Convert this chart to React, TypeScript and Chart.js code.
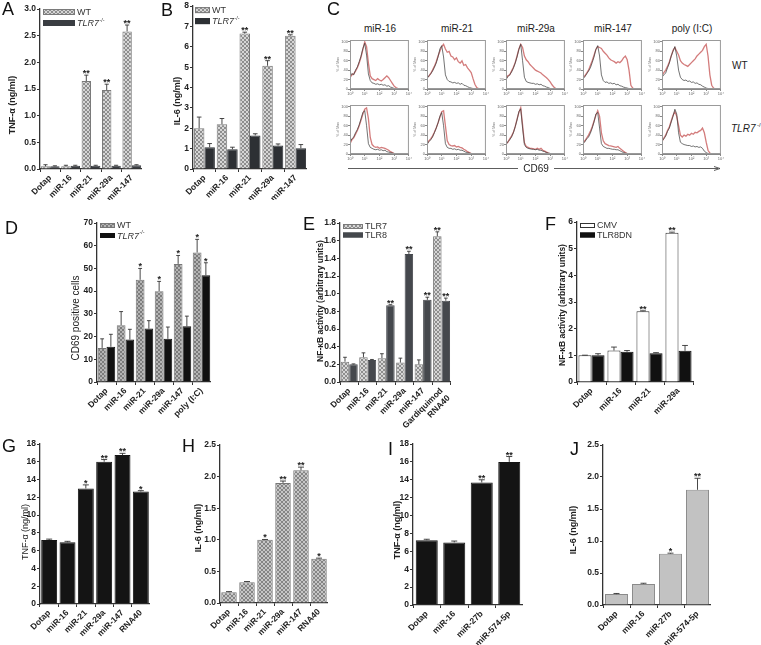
import React, { useEffect, useRef } from 'react';
import { Chart, registerables } from 'chart.js';
Chart.register(...registerables);

const FONT = "'Liberation Sans', Arial, Helvetica, sans-serif";

// ---------------- Panel A ----------------
const A_CATS = ['Dotap', 'miR-16', 'miR-21', 'miR-29a', 'miR-147'];
const A_WT = [0.05, 0.05, 1.65, 1.48, 2.58];
const A_WT_ERR = [0.03, 0.02, 0.11, 0.11, 0.12];
const A_KO = [0.05, 0.06, 0.06, 0.06, 0.07];
const A_KO_ERR = [0.01, 0.01, 0.01, 0.01, 0.01];
const A_STARS = ['', '', '**', '**', '**'];

// ---------------- Panel B ----------------
const B_CATS = ['Dotap', 'miR-16', 'miR-21', 'miR-29a', 'miR-147'];
const B_WT = [2.0, 2.2, 6.65, 5.07, 6.55];
const B_WT_ERR = [0.55, 0.28, 0.07, 0.25, 0.04];
const B_KO = [1.07, 0.97, 1.65, 1.15, 1.02];
const B_KO_ERR = [0.18, 0.1, 0.08, 0.08, 0.18];
const B_STARS = ['', '', '**', '**', '**'];

// ---------------- Panel D ----------------
const D_CATS = ['Dotap', 'miR-16', 'miR-21', 'miR-29a', 'miR-147', 'poly (I:C)'];
const D_WT = [15, 25, 45, 40, 52, 57];
const D_WT_ERR = [4, 6, 5, 4.3, 3.7, 5.8];
const D_KO = [15.5, 18.7, 23.5, 19, 24.5, 47];
const D_KO_ERR = [5.5, 4.5, 3.5, 5.2, 4.5, 5.5];
const D_WT_STARS = ['', '', '*', '*', '*', '*'];
const D_KO_STARS = ['', '', '', '', '', '*'];

// ---------------- Panel E ----------------
const E_CATS = ['Dotap', 'miR-16', 'miR-21', 'miR-29a', 'miR-147', ['Gardiquimod', 'RNA40']];
const E_TLR7 = [0.23, 0.28, 0.27, 0.22, 0.2, 1.65];
const E_TLR7_ERR = [0.05, 0.05, 0.05, 0.05, 0.05, 0.05];
const E_TLR8 = [0.2, 0.25, 0.87, 1.45, 0.93, 0.92];
const E_TLR8_ERR = [0.005, 0.005, 0.005, 0.03, 0.03, 0.03];
const E_TLR7_STARS = ['', '', '', '', '', '**'];
const E_TLR8_STARS = ['', '', '**', '**', '**', '**'];

// ---------------- Panel F ----------------
const F_CATS = ['Dotap', 'miR-16', 'miR-21', 'miR-29a'];
const F_CMV = [1.0, 1.18, 2.65, 5.6];
const F_CMV_ERR = [0.005, 0.13, 0.02, 0.02];
const F_DN = [1.0, 1.13, 1.08, 1.17];
const F_DN_ERR = [0.06, 0.05, 0.02, 0.2];
const F_STARS = ['', '', '**', '**'];

// ---------------- Panel G ----------------
const G_CATS = ['Dotap', 'miR-16', 'miR-21', 'miR-29a', 'miR-147', 'RNA40'];
const G_VALS = [7.2, 6.95, 13.0, 16.0, 16.75, 12.65];
const G_ERR = [0.1, 0.1, 0.4, 0.25, 0.2, 0.1];
const G_STARS = ['', '', '*', '**', '**', '*'];

// ---------------- Panel H ----------------
const H_CATS = ['Dotap', 'miR-16', 'miR-21', 'miR-29a', 'miR-147', 'RNA40'];
const H_VALS = [0.17, 0.33, 1.0, 1.9, 2.1, 0.7];
const H_ERR = [0.01, 0.01, 0.005, 0.03, 0.05, 0.01];
const H_STARS = ['', '', '*', '**', '**', '*'];

// ---------------- Panel I ----------------
const I_CATS = ['Dotap', 'miR-16', 'miR-27b', 'miR-574-5p'];
const I_VALS = [7.25, 7.0, 13.7, 16.0];
const I_ERR = [0.1, 0.15, 0.3, 0.6];
const I_STARS = ['', '', '**', '**'];

// ---------------- Panel J ----------------
const J_CATS = ['Dotap', 'miR-16', 'miR-27b', 'miR-574-5p'];
const J_VALS = [0.17, 0.33, 0.8, 1.8];
const J_ERR = [0.01, 0.01, 0.01, 0.18];
const J_STARS = ['', '', '*', '**'];

// ---------------- Panel C (CD69 histograms) ----------------
const HIST_X = [0, 0.125, 0.25, 0.375, 0.5, 0.625, 0.75, 0.875, 1, 1.125, 1.25, 1.375, 1.5, 1.625, 1.75, 1.875, 2, 2.125, 2.25, 2.375, 2.5, 2.625, 2.75, 2.875, 3, 3.125, 3.25, 3.375, 3.5, 3.625, 3.75, 3.875, 4];
const HIST_XTICKS = ['10⁰', '10¹', '10²', '10³', '10⁴'];
const C_TITLES = ['miR-16', 'miR-21', 'miR-29a', 'miR-147', 'poly (I:C)'];

const WT_CTRL_16 = [26, 33, 30, 40, 47, 58, 70, 86, 97, 72, 32, 18, 13, 12, 10, 11, 9, 10, 8, 9, 6, 7, 4, 3, 1, 1, 0, 0, 0, 0, 0, 0, 0];
const WT_RED_16 = [24, 30, 32, 38, 45, 55, 68, 84, 100, 90, 55, 28, 22, 20, 18, 22, 19, 17, 20, 24, 28, 24, 18, 12, 6, 3, 1, 0, 0, 0, 0, 0, 0];
const WT_CTRL_21 = [22, 28, 32, 38, 46, 55, 68, 85, 92, 68, 30, 20, 16, 15, 13, 14, 12, 13, 10, 12, 8, 7, 5, 3, 2, 1, 0, 0, 0, 0, 0, 0, 0];
const WT_RED_21 = [25, 27, 33, 40, 48, 58, 70, 80, 90, 95, 85, 78, 80, 70, 68, 62, 66, 58, 55, 60, 50, 52, 45, 40, 35, 22, 10, 3, 1, 0, 0, 0, 0];
const WT_CTRL_29 = [20, 26, 30, 36, 44, 55, 68, 84, 95, 60, 25, 16, 14, 13, 12, 12, 10, 11, 9, 10, 7, 6, 4, 3, 1, 1, 0, 0, 0, 0, 0, 0, 0];
const WT_RED_29 = [22, 28, 30, 38, 46, 56, 70, 85, 95, 88, 70, 62, 58, 52, 48, 44, 40, 38, 36, 34, 30, 27, 24, 20, 15, 9, 4, 1, 0, 0, 0, 0, 0];
const WT_CTRL_147 = [22, 26, 32, 38, 45, 56, 68, 84, 92, 70, 30, 18, 14, 15, 12, 13, 11, 12, 9, 10, 7, 6, 4, 3, 2, 1, 0, 0, 0, 0, 0, 0, 0];
const WT_RED_147 = [24, 28, 34, 40, 50, 60, 72, 84, 90, 88, 86, 80, 76, 72, 66, 62, 60, 58, 55, 58, 56, 60, 66, 70, 62, 40, 8, 2, 0, 0, 0, 0, 0];
const WT_CTRL_POLY = [25, 30, 34, 45, 55, 70, 80, 90, 70, 40, 25, 20, 18, 19, 16, 17, 14, 15, 12, 13, 10, 9, 6, 4, 2, 1, 0, 0, 0, 0, 0, 0, 0];
const WT_RED_POLY = [28, 35, 40, 48, 58, 70, 82, 88, 80, 72, 60, 55, 52, 50, 48, 52, 56, 60, 64, 70, 74, 78, 82, 90, 95, 70, 30, 8, 2, 0, 0, 0, 0];

const KO_CTRL_16 = [25, 32, 36, 45, 52, 62, 75, 88, 92, 60, 22, 14, 12, 10, 9, 10, 8, 9, 7, 8, 5, 4, 3, 2, 1, 0, 0, 0, 0, 0, 0, 0, 0];
const KO_RED_16 = [22, 30, 34, 42, 50, 60, 72, 85, 95, 98, 75, 35, 20, 16, 14, 15, 12, 14, 13, 12, 10, 8, 5, 3, 1, 0, 0, 0, 0, 0, 0, 0, 0];
const KO_CTRL_21 = [20, 26, 30, 36, 45, 55, 66, 80, 88, 60, 22, 14, 12, 12, 10, 11, 9, 10, 8, 8, 6, 4, 3, 2, 1, 0, 0, 0, 0, 0, 0, 0, 0];
const KO_RED_21 = [22, 28, 32, 38, 46, 55, 66, 78, 90, 92, 60, 28, 20, 18, 17, 18, 15, 16, 14, 13, 10, 8, 5, 3, 1, 0, 0, 0, 0, 0, 0, 0, 0];
const KO_CTRL_29 = [20, 26, 30, 36, 45, 58, 72, 90, 96, 55, 20, 14, 12, 11, 10, 10, 9, 10, 8, 8, 6, 5, 3, 2, 1, 0, 0, 0, 0, 0, 0, 0, 0];
const KO_RED_29 = [22, 25, 32, 38, 46, 58, 74, 88, 98, 62, 24, 16, 14, 12, 12, 11, 10, 12, 10, 12, 8, 6, 4, 2, 1, 0, 0, 0, 0, 0, 0, 0, 0];
const KO_CTRL_147 = [22, 26, 32, 36, 44, 55, 68, 85, 88, 55, 22, 16, 14, 12, 12, 11, 10, 10, 9, 9, 7, 5, 3, 2, 1, 0, 0, 0, 0, 0, 0, 0, 0];
const KO_RED_147 = [24, 28, 34, 40, 48, 58, 70, 82, 92, 80, 45, 28, 22, 20, 18, 17, 16, 15, 14, 16, 12, 9, 6, 3, 1, 0, 0, 0, 0, 0, 0, 0, 0];
const KO_CTRL_POLY = [28, 32, 38, 48, 55, 68, 80, 95, 85, 45, 25, 22, 20, 19, 18, 18, 16, 17, 15, 16, 14, 15, 12, 6, 3, 1, 0, 0, 0, 0, 0, 0, 0];
const KO_RED_POLY = [26, 34, 40, 50, 58, 70, 82, 90, 80, 60, 40, 36, 40, 38, 42, 40, 44, 42, 46, 45, 48, 50, 55, 45, 25, 8, 2, 0, 0, 0, 0, 0, 0];

const C_WT_CTRL = [WT_CTRL_16, WT_CTRL_21, WT_CTRL_29, WT_CTRL_147, WT_CTRL_POLY];
const C_WT_RED = [WT_RED_16, WT_RED_21, WT_RED_29, WT_RED_147, WT_RED_POLY];
const C_KO_CTRL = [KO_CTRL_16, KO_CTRL_21, KO_CTRL_29, KO_CTRL_147, KO_CTRL_POLY];
const C_KO_RED = [KO_RED_16, KO_RED_21, KO_RED_29, KO_RED_147, KO_RED_POLY];

// ---------------- helpers ----------------
function hatch(bg: string, fg: string) {
  const c = document.createElement('canvas');
  c.width = 4; c.height = 4;
  const x = c.getContext('2d')!;
  x.fillStyle = bg; x.fillRect(0, 0, 4, 4);
  x.fillStyle = fg;
  for (let i = 0; i < 4; i++) { x.fillRect(i, i, 1, 1); x.fillRect(3 - i, i, 1, 1); }
  return x.createPattern(c, 'repeat')!;
}

const errorBarPlugin = {
  id: 'errorBars',
  afterDatasetsDraw(chart: any) {
    const ctx = chart.ctx;
    const ys = chart.scales.y;
    chart.data.datasets.forEach((ds: any, i: number) => {
      if (!ds.errors) return;
      const meta = chart.getDatasetMeta(i);
      meta.data.forEach((bar: any, j: number) => {
        const v = ds.data[j], e = ds.errors[j];
        const yTop = ys.getPixelForValue(v + e);
        const yBase = ys.getPixelForValue(v);
        const hw = Math.max(1.5, Math.min(3, bar.width * 0.22));
        ctx.save();
        ctx.strokeStyle = ds.errorColor || '#333';
        ctx.lineWidth = 0.9;
        ctx.beginPath();
        ctx.moveTo(bar.x, yBase); ctx.lineTo(bar.x, yTop);
        ctx.moveTo(bar.x - hw, yTop); ctx.lineTo(bar.x + hw, yTop);
        ctx.stroke();
        ctx.restore();
      });
    });
  },
};

const starPlugin = {
  id: 'stars',
  afterDatasetsDraw(chart: any) {
    const ctx = chart.ctx;
    const ys = chart.scales.y;
    chart.data.datasets.forEach((ds: any, i: number) => {
      if (!ds.stars) return;
      const meta = chart.getDatasetMeta(i);
      meta.data.forEach((bar: any, j: number) => {
        const s = ds.stars[j];
        if (!s) return;
        const yTop = ys.getPixelForValue(ds.data[j] + (ds.errors ? ds.errors[j] : 0));
        ctx.save();
        ctx.fillStyle = '#222';
        ctx.font = `bold 9px ${FONT}`;
        ctx.textAlign = 'center';
        ctx.textBaseline = 'alphabetic';
        ctx.fillText(s, bar.x, yTop + 1);
        ctx.restore();
      });
    });
  },
};

const legendPlugin = {
  id: 'boxLegend',
  afterDraw(chart: any) {
    const o = chart.options.plugins.boxLegend;
    if (!o || !o.items) return;
    const ctx = chart.ctx;
    const { left, top } = chart.chartArea;
    o.items.forEach((it: any, i: number) => {
      const ds = chart.data.datasets[i];
      const x = left + o.dx, y = top + o.dy + i * o.gap;
      ctx.save();
      ctx.fillStyle = ds.backgroundColor;
      ctx.fillRect(x, y, o.w, o.h);
      ctx.strokeStyle = ds.borderColor;
      ctx.lineWidth = 1;
      ctx.strokeRect(x + 0.5, y + 0.5, o.w - 1, o.h - 1);
      ctx.fillStyle = '#333';
      ctx.textBaseline = 'middle';
      ctx.textAlign = 'left';
      ctx.font = `${it.italic ? 'italic ' : ''}${o.size}px ${FONT}`;
      const tx = x + o.w + 2;
      ctx.fillText(it.label, tx, y + o.h / 2 + 0.5);
      if (it.sup) {
        const w = ctx.measureText(it.label).width;
        ctx.font = `${o.size * 0.6}px ${FONT}`;
        ctx.fillText(it.sup, tx + w + 0.5, y + o.h / 2 - o.size * 0.3);
      }
      ctx.restore();
    });
  },
};

const framePlugin = {
  id: 'frame',
  afterDraw(chart: any) {
    const { left, top, right, bottom } = chart.chartArea;
    const ctx = chart.ctx;
    ctx.save();
    ctx.strokeStyle = '#9a9a9a';
    ctx.lineWidth = 1;
    ctx.strokeRect(left + 0.5, top + 0.5, right - left - 1, bottom - top - 1);
    ctx.restore();
  },
};

type Series = { data: number[]; errors: number[]; stars?: string[]; bg: () => any; border: string };
type BarSpec = {
  cats: any[]; series: Series[]; yMax: number; yStep: number; dec: number;
  cl: number; ct: number; cr: number; cb: number; yW: number; top: number; h: number; w: number;
  catPct: number; barPct: number; legend?: any; tickSize?: number;
};

function barConfig(s: BarSpec, canvasX: number) {
  const padTop = s.ct - s.top;
  const padRight = canvasX + s.w - s.cr;
  const xH = s.top + s.h - s.cb;
  const axisCommon = {
    grid: { display: true, drawOnChartArea: false, tickLength: 3, color: '#333', lineWidth: 1 },
    border: { display: true, color: '#333', width: 1.3 },
  };
  const tfont = { family: FONT, size: s.tickSize || 8.5, weight: 'bold' as const };
  return {
    type: 'bar' as const,
    data: {
      labels: s.cats,
      datasets: s.series.map((sr) => ({
        data: sr.data, errors: sr.errors, stars: sr.stars,
        backgroundColor: sr.bg(), borderColor: sr.border, borderWidth: 1,
        categoryPercentage: s.catPct, barPercentage: s.barPct,
      })),
    },
    options: {
      responsive: false, animation: false as const,
      layout: { padding: { left: 0, top: padTop, right: padRight, bottom: 0 } },
      plugins: { legend: { display: false }, tooltip: { enabled: false }, boxLegend: s.legend || {} },
      scales: {
        x: {
          ...axisCommon,
          ticks: { maxRotation: 45, minRotation: 45, font: tfont, color: '#222', padding: 1, autoSkip: false },
          afterFit: (sc: any) => { sc.height = xH; },
        },
        y: {
          ...axisCommon, min: 0, max: s.yMax,
          ticks: { stepSize: s.yStep, font: tfont, color: '#222', padding: 1, callback: (v: any) => Number(v).toFixed(s.dec) },
          afterFit: (sc: any) => { sc.width = s.yW; },
        },
      },
    },
    plugins: [errorBarPlugin, starPlugin, legendPlugin],
  };
}

function BarPanel({ spec }: { spec: BarSpec }) {
  const ref = useRef<HTMLCanvasElement>(null);
  const x = spec.cl - spec.yW;
  useEffect(() => {
    const chart = new Chart(ref.current!, barConfig(spec, x) as any);
    return () => chart.destroy();
  }, []);
  return <canvas ref={ref} width={spec.w} height={spec.h} style={{ position: 'absolute', left: x, top: spec.top, width: spec.w, height: spec.h }} />;
}

function HistPanel({ left, top, ctrl, red }: { left: number; top: number; ctrl: number[]; red: number[] }) {
  const ref = useRef<HTMLCanvasElement>(null);
  const boxW = 60, boxH = 49, yW = 14, xH = 10, pt = 4, pr = 2;
  const W = boxW + yW + pr, H = boxH + pt + xH;
  useEffect(() => {
    const tf = { family: FONT, size: 4 };
    const chart = new Chart(ref.current!, {
      type: 'line',
      data: {
        datasets: [
          { data: HIST_X.map((x, i) => ({ x, y: ctrl[i] })), borderColor: 'rgba(60,60,60,0.9)', borderWidth: 0.8, pointRadius: 0, tension: 0 },
          { data: HIST_X.map((x, i) => ({ x, y: red[i] })), borderColor: 'rgba(196,80,80,0.75)', borderWidth: 1.3, pointRadius: 0, tension: 0 },
        ],
      },
      options: {
        responsive: false, animation: false,
        layout: { padding: { top: pt, right: pr, left: 0, bottom: 0 } },
        plugins: { legend: { display: false }, tooltip: { enabled: false } },
        scales: {
          x: {
            type: 'linear', min: 0, max: 4,
            ticks: { stepSize: 1, callback: (v: any) => HIST_XTICKS[v] ?? '', font: tf, color: '#666', padding: 0, maxRotation: 0 },
            grid: { drawOnChartArea: false, tickLength: 2, color: '#888' },
            border: { color: '#888' },
            afterFit: (s: any) => { s.height = xH; },
          },
          y: {
            min: 0, max: 104,
            ticks: { stepSize: 20, includeBounds: false, font: tf, color: '#666', padding: 0 },
            grid: { drawOnChartArea: false, tickLength: 2, color: '#888' },
            border: { color: '#888' },
            title: { display: true, text: '% of Max', font: { family: FONT, size: 3.5 }, color: '#777', padding: 0 },
            afterFit: (s: any) => { s.width = yW; },
          },
        },
      },
      plugins: [framePlugin],
    } as any);
    return () => chart.destroy();
  }, []);
  return <canvas ref={ref} width={W} height={H} style={{ position: 'absolute', left: left - yW, top: top - pt, width: W, height: H }} />;
}

const LIGHT = () => hatch('#d6d6d6', '#8e8e8e');

const SPECS: BarSpec[] = [
  { // A
    cats: A_CATS, yMax: 3, yStep: 0.5, dec: 1, cl: 40, ct: 9, cr: 159, cb: 169, yW: 24, top: 0, h: 200, w: 126,
    catPct: 0.92, barPct: 1,
    series: [
      { data: A_WT, errors: A_WT_ERR, stars: A_STARS, bg: LIGHT, border: '#7a7a7a' },
      { data: A_KO, errors: A_KO_ERR, bg: () => '#3a3d42', border: '#3a3d42' },
    ],
    legend: { dx: 3, dy: 0, w: 32, h: 6, gap: 11, size: 9, items: [{ label: 'WT' }, { label: 'TLR7', sup: '-/-', italic: true }] },
  },
  { // B
    cats: B_CATS, yMax: 8, yStep: 1, dec: 0, cl: 193, ct: 6, cr: 319, cb: 169, yW: 16, top: 0, h: 200, w: 130,
    catPct: 0.92, barPct: 1,
    series: [
      { data: B_WT, errors: B_WT_ERR, stars: B_STARS, bg: LIGHT, border: '#7a7a7a' },
      { data: B_KO, errors: B_KO_ERR, bg: () => '#2d3034', border: '#2d3034' },
    ],
    legend: { dx: 2, dy: 1, w: 15, h: 6, gap: 11, size: 9, items: [{ label: 'WT' }, { label: 'TLR7', sup: '-/-', italic: true }] },
  },
  { // D
    cats: D_CATS, yMax: 70, yStep: 10, dec: 0, cl: 97, ct: 223, cr: 213, cb: 382, yW: 16, top: 200, h: 230, w: 130,
    catPct: 0.92, barPct: 1,
    series: [
      { data: D_WT, errors: D_WT_ERR, stars: D_WT_STARS, bg: () => hatch('#b4b4b4', '#7c7c7c'), border: '#777' },
      { data: D_KO, errors: D_KO_ERR, stars: D_KO_STARS, bg: () => '#111', border: '#111' },
    ],
    legend: { dx: 3, dy: 0, w: 15, h: 5, gap: 10, size: 9, items: [{ label: 'WT' }, { label: 'TLR7', sup: '-/-', italic: true }] },
  },
  { // E
    cats: E_CATS, yMax: 1.8, yStep: 0.2, dec: 1, cl: 340, ct: 223, cr: 463, cb: 382, yW: 18, top: 200, h: 230, w: 135,
    catPct: 0.92, barPct: 1,
    series: [
      { data: E_TLR7, errors: E_TLR7_ERR, stars: E_TLR7_STARS, bg: LIGHT, border: '#7a7a7a' },
      { data: E_TLR8, errors: E_TLR8_ERR, stars: E_TLR8_STARS, bg: () => '#45484d', border: '#45484d' },
    ],
    legend: { dx: 3, dy: 1, w: 20, h: 5, gap: 8.5, size: 9, items: [{ label: 'TLR7' }, { label: 'TLR8' }] },
  },
  { // F
    cats: F_CATS, yMax: 6, yStep: 1, dec: 0, cl: 577, ct: 222, cr: 693, cb: 382, yW: 14, top: 200, h: 230, w: 134,
    catPct: 0.9, barPct: 1,
    series: [
      { data: F_CMV, errors: F_CMV_ERR, stars: F_STARS, bg: () => '#ffffff', border: '#333' },
      { data: F_DN, errors: F_DN_ERR, bg: () => '#111', border: '#111' },
    ],
    legend: { dx: 3, dy: 1, w: 15, h: 5, gap: 9.5, size: 9, items: [{ label: 'CMV' }, { label: 'TLR8DN' }] },
  },
  { // G
    cats: G_CATS, yMax: 18, yStep: 2, dec: 0, cl: 40, ct: 444, cr: 159, cb: 604, yW: 16, top: 430, h: 215, w: 126,
    catPct: 0.87, barPct: 1,
    series: [{ data: G_VALS, errors: G_ERR, stars: G_STARS, bg: () => '#141414', border: '#141414' }],
  },
  { // H
    cats: H_CATS, yMax: 2.5, yStep: 0.5, dec: 1, cl: 220, ct: 445, cr: 339, cb: 603, yW: 18, top: 430, h: 215, w: 126,
    catPct: 0.86, barPct: 1,
    series: [{ data: H_VALS, errors: H_ERR, stars: H_STARS, bg: () => hatch('#c6c6c6', '#858585'), border: '#777' }],
  },
  { // I
    cats: I_CATS, yMax: 18, yStep: 2, dec: 0, cl: 413, ct: 444, cr: 533, cb: 605, yW: 16, top: 430, h: 215, w: 126,
    catPct: 0.8, barPct: 1,
    series: [{ data: I_VALS, errors: I_ERR, stars: I_STARS, bg: () => '#141414', border: '#141414' }],
  },
  { // J
    cats: J_CATS, yMax: 2.5, yStep: 0.5, dec: 1, cl: 603, ct: 445, cr: 722, cb: 605, yW: 18, top: 430, h: 215, w: 126,
    catPct: 0.85, barPct: 1,
    series: [{ data: J_VALS, errors: J_ERR, stars: J_STARS, bg: () => '#c2c2c2', border: '#8a8a8a' }],
  },
];

const Y_TITLES = [
  { text: 'TNF-α (ng/ml)', x: 12, y: 105, bold: true, size: 9 },
  { text: 'IL-6 (ng/ml)', x: 177, y: 101, bold: true, size: 9 },
  { text: 'CD69 positive cells', x: 75, y: 318, bold: false, size: 10 },
  { text: 'NF-κB activity (arbitrary units)', x: 320, y: 301, bold: true, size: 8.5 },
  { text: 'NF-κB activity (arbitrary units)', x: 562, y: 305, bold: true, size: 8.5 },
  { text: 'TNF-α (ng/ml)', x: 25, y: 532, bold: false, size: 9 },
  { text: 'IL-6 (ng/ml)', x: 198, y: 528, bold: true, size: 9 },
  { text: 'TNF-α (ng/ml)', x: 397, y: 530, bold: true, size: 9 },
  { text: 'IL-6 (ng/ml)', x: 573, y: 530, bold: true, size: 9 },
];

const LETTERS = [
  { t: 'A', x: 2, y: 3 }, { t: 'B', x: 161, y: 4 }, { t: 'C', x: 327, y: 3 },
  { t: 'D', x: 5, y: 222 }, { t: 'E', x: 303, y: 218 }, { t: 'F', x: 545, y: 218 },
  { t: 'G', x: 2, y: 440 }, { t: 'H', x: 182, y: 440 }, { t: 'I', x: 388, y: 443 }, { t: 'J', x: 570, y: 443 },
];

const C_BOX_LEFT = [350, 427, 506, 583, 662];
const C_TOP_ROW = 40;
const C_BOTTOM_ROW = 105;

export default function App() {
  return (
    <div style={{ position: 'fixed', left: 0, top: 0, width: 761, height: 645, background: '#fff', overflow: 'hidden', fontFamily: FONT }}>
      {SPECS.map((s, i) => <BarPanel key={i} spec={s} />)}
      {C_BOX_LEFT.map((l, i) => <HistPanel key={'t' + i} left={l} top={C_TOP_ROW} ctrl={C_WT_CTRL[i]} red={C_WT_RED[i]} />)}
      {C_BOX_LEFT.map((l, i) => <HistPanel key={'b' + i} left={l} top={C_BOTTOM_ROW} ctrl={C_KO_CTRL[i]} red={C_KO_RED[i]} />)}
      {C_TITLES.map((t, i) => (
        <div key={'ct' + i} style={{ position: 'absolute', left: C_BOX_LEFT[i] + 30, top: 28, transform: 'translate(-50%,-50%)', fontSize: 10, color: '#222', whiteSpace: 'nowrap' }}>{t}</div>
      ))}
      <div style={{ position: 'absolute', left: 732, top: 65, transform: 'translateY(-50%)', fontSize: 10, color: '#222' }}>WT</div>
      <div style={{ position: 'absolute', left: 731, top: 128, transform: 'translateY(-50%)', fontSize: 10, color: '#222', whiteSpace: 'nowrap' }}>
        <i>TLR7</i><sup style={{ fontSize: 6 }}> -/-</sup>
      </div>
      <svg style={{ position: 'absolute', left: 0, top: 0 }} width={761} height={645}>
        <line x1={348} y1={168.5} x2={518} y2={168.5} stroke="#333" strokeWidth={0.8} />
        <line x1={554} y1={168.5} x2={718} y2={168.5} stroke="#333" strokeWidth={0.8} />
        <path d="M714,166.5 L720,168.5 L714,170.5" fill="none" stroke="#333" strokeWidth={0.8} />
      </svg>
      <div style={{ position: 'absolute', left: 536, top: 168, transform: 'translate(-50%,-50%)', fontSize: 10, color: '#222' }}>CD69</div>
      {Y_TITLES.map((t, i) => (
        <div key={'yt' + i} style={{ position: 'absolute', left: t.x, top: t.y, transform: 'translate(-50%,-50%) rotate(-90deg)', whiteSpace: 'nowrap', fontSize: t.size, fontWeight: t.bold ? 'bold' : 'normal', color: '#222' }}>{t.text}</div>
      ))}
      {LETTERS.map((l) => (
        <div key={l.t} style={{ position: 'absolute', left: l.x, top: l.y - 3, fontSize: 18, lineHeight: '18px', color: '#111' }}>{l.t}</div>
      ))}
    </div>
  );
}
